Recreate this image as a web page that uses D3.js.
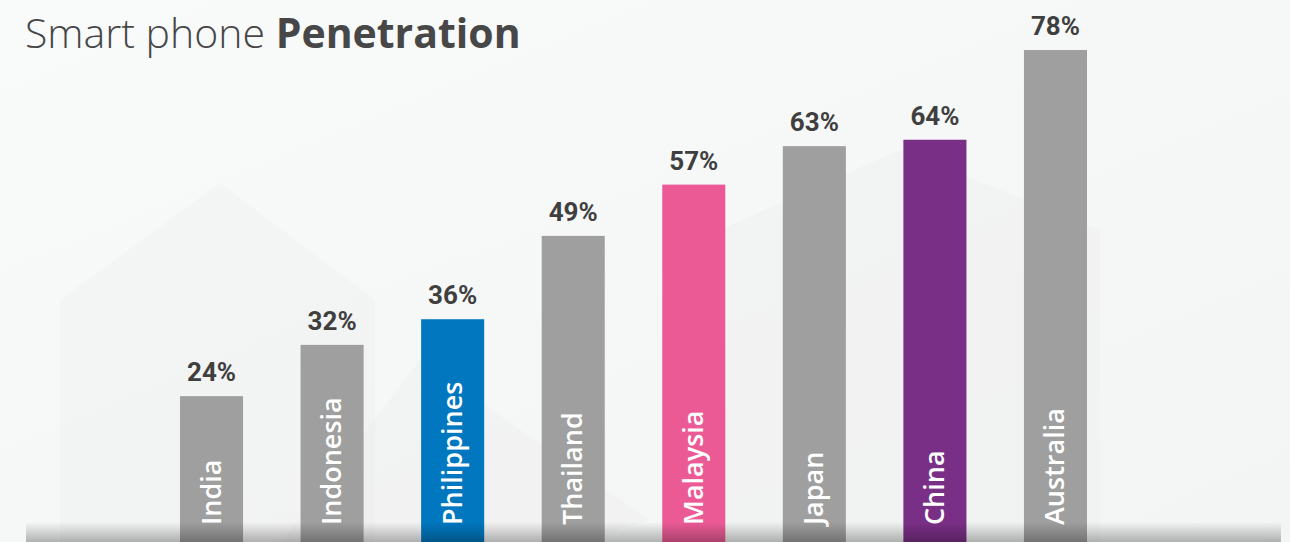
<!DOCTYPE html>
<html>
<head>
<meta charset="utf-8">
<script src="https://cdn.jsdelivr.net/npm/d3@7"></script>
<style>
  html, body { margin: 0; padding: 0; background: #f6f7f7; }
  svg { display: block; }
</style>
</head>
<body>
<div id="plot"></div>
<script>
// data
const countries = ["India", "Indonesia", "Philippines", "Thailand", "Malaysia", "Japan", "China", "Australia"];
const penetration = [24, 32, 36, 49, 57, 63, 64, 78];
const barColors = ["#9e9f9e", "#9e9f9e", "#0077bf", "#9e9f9e", "#eb5a95", "#9e9f9e", "#7a2f86", "#9e9f9e"];

const w = 1290;
const h = 542;

const data = countries.map((c, i) => ({country: c, value: penetration[i], color: barColors[i]}));

const xScale = d3.scaleBand()
    .domain(countries)
    .range([180, 1087])
    .paddingInner(0.477)
    .paddingOuter(0);

const yScale = d3.scaleLinear()
    .domain([0, d3.max(penetration)])
    .range([550, 50]);

const svg = d3.select("#plot")
  .append("svg")
    .attr("width", w)
    .attr("height", h);

// background
const defs = svg.append("defs");
const bg = defs.append("linearGradient")
    .attr("id", "bg")
    .attr("x1", 0).attr("y1", 0).attr("x2", 1).attr("y2", 1);
bg.append("stop").attr("offset", "0%").attr("stop-color", "#f9fafa");
bg.append("stop").attr("offset", "100%").attr("stop-color", "#f3f4f4");

svg.append("rect")
    .attr("width", w)
    .attr("height", h)
    .attr("fill", "url(#bg)");

// faint shapes in the background
const shapes = [
  [[60, 300], [220, 183], [375, 300], [375, 542], [60, 542]],
  [[190, 660], [420, 360], [650, 520]],
  [[720, 230], [900, 150], [1100, 230], [1100, 542], [720, 542]]
];
svg.append("g")
  .selectAll("path")
  .data(shapes)
  .join("path")
    .attr("d", d => "M" + d.join("L") + "Z")
    .attr("fill", "#e6e7e7")
    .attr("opacity", 0.2);

// title
const title = svg.append("text")
    .attr("x", 25)
    .attr("y", 48)
    .attr("font-family", "'Open Sans', sans-serif")
    .attr("font-size", 41)
    .attr("fill", "#474747");
title.append("tspan").attr("font-weight", 300).text("Smart phone ");
title.append("tspan").attr("font-weight", 700).text("Penetration");

// bars
const bars = svg.append("g").attr("class", "bars");

bars.selectAll("rect")
  .data(data)
  .join("rect")
    .attr("x", d => xScale(d.country))
    .attr("y", d => yScale(d.value))
    .attr("width", xScale.bandwidth())
    .attr("height", d => yScale(0) - yScale(d.value))
    .attr("fill", d => d.color);

// value labels
svg.append("g")
  .selectAll("text")
  .data(data)
  .join("text")
    .attr("x", d => xScale(d.country) + xScale.bandwidth() / 2)
    .attr("y", d => yScale(d.value) - 15)
    .attr("text-anchor", "middle")
    .attr("font-family", "Roboto, sans-serif")
    .attr("font-weight", 700)
    .attr("font-size", 26)
    .attr("fill", "#3f3f3f")
    .text(d => d.value + "%");

// country names inside bars
svg.append("g")
  .selectAll("text")
  .data(data)
  .join("text")
    .attr("transform", d => `translate(${xScale(d.country) + xScale.bandwidth() / 2}, 525) rotate(-90)`)
    .attr("dy", 9)
    .attr("font-family", "'Open Sans', sans-serif")
    .attr("font-weight", 600)
    .attr("font-size", 27)
    .attr("fill", "#ffffff")
    .text(d => d.country);

// shadow strip at the bottom
const shade = defs.append("linearGradient")
    .attr("id", "shade")
    .attr("x1", 0).attr("y1", 0).attr("x2", 0).attr("y2", 1);
shade.append("stop").attr("offset", "0%").attr("stop-color", "#000").attr("stop-opacity", 0);
shade.append("stop").attr("offset", "100%").attr("stop-color", "#000").attr("stop-opacity", 0.28);

svg.append("rect")
    .attr("x", 26)
    .attr("y", 522)
    .attr("width", 1255)
    .attr("height", 20)
    .attr("fill", "url(#shade)");
</script>
</body>
</html>
